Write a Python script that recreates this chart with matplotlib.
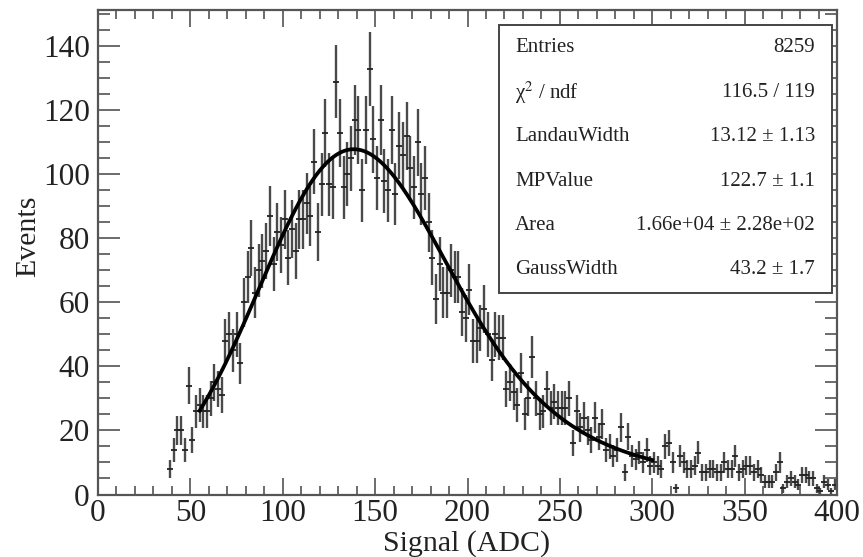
import numpy as np
import matplotlib
matplotlib.use("Agg")
from matplotlib import pyplot as plt
from matplotlib.ticker import MultipleLocator
from matplotlib.patches import Rectangle

# histogram: 2 ADC bins, first filled bin centred at 39
bin_width = 2.0
first_center = 39.0
counts_rise = [8, 14, 20, 20, 14, 34, 17, 26, 28, 26,
               26, 30, 35, 33, 31, 48, 50, 45, 50, 41,
               60, 68, 77, 63, 70, 73, 76, 87, 72, 82,
               78, 86]
counts_peak = [74, 83, 76, 86, 86, 91, 87, 104, 82, 97,
               113, 97, 96, 129, 113, 96, 100, 105, 117, 114,
               95, 114, 133, 111, 99, 117, 98, 95, 114, 94,
               109]
counts_fall = [106, 112, 102, 96, 110, 94, 99, 85, 74, 61,
               72, 63, 63, 70, 68, 68, 57, 55, 64, 48,
               48, 52, 58, 50, 42, 50]
counts_tail = [49, 49, 33, 35, 32, 28, 38, 25, 30, 43,
               30, 25, 26, 33, 27, 29, 27, 27, 27, 30,
               16, 26, 21, 24, 20, 17, 24, 18, 22, 14,
               15, 12, 14, 21, 7, 18, 12, 11, 13, 10,
               14, 9, 10]
counts_far = [9, 8, 15, 16, 10, 2, 12, 10, 8, 8,
              9, 13, 7, 7, 8, 8, 7, 7, 10, 8,
              8, 12, 7, 8, 9, 9, 7, 8, 6, 4,
              4, 4, 7, 10, 2, 4, 5, 4, 3, 6,
              6, 5, 5, 2, 1, 4, 3, 1, 3]

# Landau (x) Gauss fit result
entries = 8259
chi2, ndf = 116.5, 119
landau_width, landau_width_err = 13.12, 1.13
mp_value, mp_value_err = 122.7, 1.1
area, area_err = 1.66e4, 2.28e2
gauss_width, gauss_width_err = 43.2, 1.7
fit_range = (55, 300)


def landau_pdf(lam):
    out = np.zeros_like(lam)
    t = np.linspace(0, 40, 80001)[1:]
    dt = t[1] - t[0]
    tlogt = t * np.log(t)
    sinpt = np.sin(np.pi * t)
    y = np.linspace(0, 200, 40001)
    for i, l in enumerate(lam):
        if l >= 0:
            out[i] = np.sum(np.exp(-tlogt - l * t) * sinpt) * dt / np.pi
        elif l > -4.5:
            # steepest-descent contour through the saddle point
            c = np.exp(-1 - l)
            s = c + 1j * y
            f = np.exp(s * np.log(s) + l * s).real
            out[i] = np.trapezoid(f, y) / np.pi
    return out


def langaus(x):
    mpshift = -0.22278298
    mpc = mp_value - mpshift * landau_width
    t = np.arange(-250, 700, 0.25)
    lam_grid = np.arange(-4.5, 45, 0.02)
    p_grid = landau_pdf(lam_grid)
    land = np.interp((t - mpc) / landau_width, lam_grid, p_grid,
                     left=0, right=0) / landau_width
    g = np.exp(-(x[:, None] - t[None, :]) ** 2 / (2 * gauss_width ** 2))
    g /= np.sqrt(2 * np.pi) * gauss_width
    return area * (g * land[None, :]).sum(axis=1) * 0.25


counts = np.array(counts_rise + counts_peak + counts_fall + counts_tail + counts_far, float)
centers = first_center + bin_width * np.arange(len(counts))

plt.rcParams['font.family'] = ['Liberation Serif', 'DejaVu Serif']
plt.rcParams['mathtext.fontset'] = 'stix'

fig = plt.figure(figsize=(8.63, 5.57), dpi=100)
ax = fig.add_axes([98 / 863, 1 - 494.5 / 557, 739 / 863, 484.5 / 557])

ax.errorbar(centers, counts, yerr=np.sqrt(counts), fmt='_', color='#222222',
            ms=5, mew=1.3, ecolor='#4a4a4a', elinewidth=1.7, capsize=0)

fx = np.linspace(fit_range[0], fit_range[1], 500)
ax.plot(fx, langaus(fx), color='black', lw=2.7, zorder=5)

ax.set_xlim(0, 400)
ax.set_ylim(0, 151.4)
ax.xaxis.set_major_locator(MultipleLocator(50))
ax.xaxis.set_minor_locator(MultipleLocator(10))
ax.yaxis.set_major_locator(MultipleLocator(20))
ax.yaxis.set_minor_locator(MultipleLocator(5))
ax.tick_params(which='both', direction='in', top=True, right=True,
               labelsize=22.5, colors='#444444', labelcolor='#222222', width=1.1)
ax.tick_params(axis='x', which='major', length=12, pad=3)
ax.tick_params(axis='x', which='minor', length=6.5)
ax.tick_params(axis='y', which='major', length=16, pad=6)
ax.tick_params(axis='y', which='minor', length=8.5)
for sp in ax.spines.values():
    sp.set_linewidth(1.6)
    sp.set_color('#555555')

fig.text(467 / 863, 1 - 544 / 557, 'Signal (ADC)', fontsize=21.5,
         ha='center', va='center', color='#222222')
fig.text(28 / 863, 1 - 236 / 557, 'Events', fontsize=21.5, rotation=90,
         ha='center', va='center', color='#222222')

# statistics box
bx0, bx1, by0, by1 = 499, 832, 25, 293
fig.patches.append(Rectangle((bx0 / 863, 1 - by1 / 557), (bx1 - bx0) / 863,
                             (by1 - by0) / 557, transform=fig.transFigure,
                             facecolor='white', edgecolor='#444444', lw=1.4,
                             zorder=10))
rows = [
    ('Entries', f'{entries}'),
    ('χ$^{2}$ / ndf', f'{chi2:.1f} / {ndf}'),
    ('LandauWidth', f'{landau_width:.2f} ± {landau_width_err:.2f}'),
    ('MPValue', f'{mp_value:.1f} ± {mp_value_err:.1f}'),
    ('Area', f'{area:.2e} ± {area_err:.2e}'),
    ('GaussWidth', f'{gauss_width:.1f} ± {gauss_width_err:.1f}'),
]
for i, (name, val) in enumerate(rows):
    yy = 1 - (48 + 44.4 * i) / 557
    fig.text(515 / 863, yy, name, fontsize=15, ha='left', va='center',
             color='#222222', zorder=11)
    fig.text(815 / 863, yy, val, fontsize=15, ha='right', va='center',
             color='#222222', zorder=11)

fig.savefig('out.png', dpi=100)
